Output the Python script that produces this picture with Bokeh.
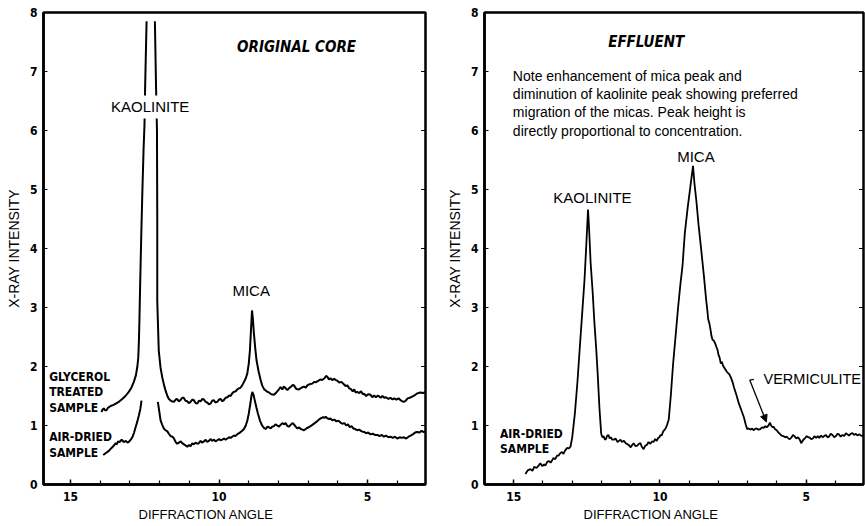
from bokeh.plotting import figure
from bokeh.layouts import row
from bokeh.models import Range1d, FixedTicker, Label, Arrow, NormalHead, Title
from bokeh.embed import file_html
from bokeh.resources import INLINE

# ---------------- data ----------------
x_ticks = [15, 10, 5]
x_minor = [4, 6, 7, 8, 9, 11, 12, 13, 14]
y_ticks = [0, 1, 2, 3, 4, 5, 6, 7, 8]

# Original core - glycerol treated sample (left and right branch of the off-scale kaolinite peak)
gly_left = [(13.96,1.23),(13.92,1.27),(13.88,1.29),(13.84,1.26),(13.79,1.26),(13.74,1.30),(13.65,1.33),
            (13.55,1.35),(13.45,1.38),(13.35,1.41),(13.26,1.45),(13.15,1.50),(13.04,1.57),(12.95,1.64),
            (12.87,1.74),(12.80,1.85),(12.75,2.00),(12.72,2.15),(12.70,2.40),(12.68,2.80),(12.66,3.30),
            (12.62,4.20),(12.58,5.00),(12.54,5.70),(12.51,6.10),(12.49,6.70),(12.44,7.85)]
gly_right = [(12.16,7.85),(12.12,6.70),(12.09,6.00),(12.08,4.50),(12.08,3.11),(12.03,2.27),(11.97,1.98),
             (11.91,1.81),(11.85,1.68),(11.80,1.59),(11.74,1.50),(11.69,1.45),(11.60,1.41),(11.52,1.40),
             (11.46,1.44),(11.41,1.45),(11.36,1.41),(11.30,1.43),(11.24,1.47),(11.19,1.47),(11.13,1.42),
             (11.07,1.41),(11.02,1.38),(10.96,1.40),(10.90,1.44),(10.85,1.43),(10.79,1.38),(10.73,1.37),
             (10.68,1.42),(10.62,1.41),(10.56,1.45),(10.51,1.44),(10.45,1.40),(10.40,1.39),(10.34,1.36),
             (10.29,1.37),(10.23,1.42),(10.18,1.43),(10.12,1.39),(10.06,1.40),(10.00,1.44),(9.95,1.45),
             (9.89,1.41),(9.84,1.43),(9.78,1.47),(9.72,1.48),(9.66,1.51),(9.61,1.50),(9.55,1.55),
             (9.50,1.57),(9.44,1.58),(9.39,1.61),(9.33,1.63),(9.28,1.64),(9.22,1.68),(9.16,1.74),
             (9.10,1.80),(9.05,1.88),(9.00,2.05),(8.96,2.28),(8.92,2.67),(8.89,2.95),(8.86,2.80),
             (8.83,2.58),(8.78,2.30),(8.74,2.11),(8.67,1.92),(8.60,1.77),(8.55,1.68),(8.49,1.62),
             (8.40,1.58),(8.32,1.56),(8.24,1.53),(8.15,1.52),(8.07,1.56),(7.99,1.61),(7.93,1.65),
             (7.87,1.61),(7.82,1.66),(7.76,1.63),(7.70,1.60),(7.65,1.63),(7.57,1.66),(7.52,1.69),
             (7.48,1.68),(7.40,1.62),(7.31,1.61),(7.23,1.64),(7.14,1.66),(7.08,1.64),(7.03,1.68),
             (6.95,1.70),(6.86,1.71),(6.80,1.74),(6.75,1.73),(6.65,1.76),(6.58,1.78),(6.53,1.77),
             (6.45,1.80),(6.40,1.84),(6.36,1.83),(6.30,1.78),(6.25,1.80),(6.19,1.77),(6.12,1.79),
             (6.07,1.77),(6.02,1.76),(5.95,1.73),(5.88,1.74),(5.80,1.70),(5.74,1.67),(5.68,1.68),
             (5.62,1.63),(5.57,1.62),(5.50,1.58),(5.45,1.61),(5.40,1.56),(5.35,1.57),(5.28,1.55),
             (5.22,1.58),(5.16,1.53),(5.12,1.54),(5.05,1.50),(4.98,1.53),(4.90,1.52),(4.84,1.48),
             (4.78,1.51),(4.72,1.48),(4.65,1.51),(4.56,1.47),(4.50,1.50),(4.44,1.47),(4.38,1.48),
             (4.30,1.45),(4.23,1.47),(4.16,1.44),(4.10,1.46),(4.03,1.44),(3.96,1.46),(3.89,1.43),
             (3.83,1.41),(3.78,1.40),(3.72,1.42),(3.65,1.46),(3.58,1.47),(3.50,1.49),(3.42,1.51),
             (3.35,1.54),(3.28,1.55),(3.22,1.56),(3.14,1.55),(3.05,1.57)]

# Original core - air-dried sample
air_left = [(13.90,0.50),(13.82,0.53),(13.71,0.57),(13.62,0.62),(13.54,0.66),(13.48,0.70),(13.44,0.68),
            (13.40,0.73),(13.34,0.72),(13.28,0.76),(13.21,0.72),(13.14,0.74),(13.08,0.71),(13.02,0.73),
            (12.96,0.77),(12.92,0.80),(12.86,0.88),(12.81,0.97),(12.75,1.07),(12.70,1.17),(12.65,1.28),
            (12.61,1.42)]
air_right = [(12.06,1.40),(12.03,1.30),(11.97,1.09),(11.92,1.02),(11.86,0.95),(11.80,0.92),(11.74,0.90),
             (11.69,0.86),(11.63,0.82),(11.57,0.81),(11.52,0.78),(11.46,0.72),(11.41,0.69),(11.35,0.71),
             (11.29,0.73),(11.24,0.70),(11.18,0.68),(11.12,0.66),(11.07,0.64),(11.01,0.67),(10.96,0.65),
             (10.90,0.70),(10.85,0.68),(10.79,0.71),(10.73,0.69),(10.68,0.70),(10.62,0.74),(10.57,0.71),
             (10.51,0.73),(10.45,0.76),(10.40,0.72),(10.34,0.74),(10.29,0.77),(10.23,0.74),(10.17,0.76),
             (10.12,0.73),(10.06,0.75),(10.00,0.77),(9.95,0.75),(9.89,0.76),(9.83,0.78),(9.78,0.76),
             (9.72,0.78),(9.66,0.80),(9.61,0.79),(9.56,0.81),(9.50,0.83),(9.45,0.82),(9.39,0.85),
             (9.30,0.88),(9.22,0.91),(9.16,0.94),(9.10,1.00),(9.05,1.08),(9.00,1.20),(8.95,1.36),
             (8.91,1.50),(8.88,1.57),(8.84,1.52),(8.80,1.43),(8.74,1.30),(8.69,1.20),(8.62,1.08),
             (8.55,1.00),(8.49,0.96),(8.43,0.94),(8.37,0.98),(8.32,0.97),(8.26,0.95),(8.21,0.98),
             (8.15,0.99),(8.10,1.02),(8.04,1.00),(7.98,0.98),(7.93,1.01),(7.87,1.04),(7.82,1.02),
             (7.76,1.04),(7.70,0.99),(7.65,0.98),(7.59,1.01),(7.53,1.04),(7.48,1.02),(7.42,0.98),
             (7.37,0.95),(7.30,0.97),(7.25,0.94),(7.19,0.93),(7.14,0.92),(7.06,0.95),(6.98,0.97),
             (6.92,0.99),(6.86,1.01),(6.78,1.04),(6.70,1.07),(6.64,1.10),(6.58,1.12),(6.50,1.14),
             (6.45,1.13),(6.41,1.15),(6.35,1.12),(6.30,1.11),(6.25,1.12),(6.19,1.09),(6.12,1.10),
             (6.05,1.07),(5.98,1.08),(5.91,1.05),(5.85,1.03),(5.78,1.04),(5.72,1.00),(5.66,1.02),
             (5.60,0.97),(5.54,0.99),(5.48,0.95),(5.42,0.94),(5.35,0.92),(5.28,0.93),(5.20,0.90),
             (5.12,0.89),(5.05,0.87),(4.98,0.88),(4.90,0.85),(4.83,0.86),(4.75,0.84),(4.67,0.84),
             (4.60,0.82),(4.52,0.84),(4.45,0.81),(4.38,0.83),(4.30,0.80),(4.23,0.81),(4.15,0.79),
             (4.08,0.81),(4.00,0.78),(3.92,0.80),(3.85,0.79),(3.78,0.80),(3.70,0.78),(3.62,0.81),
             (3.55,0.83),(3.48,0.85),(3.40,0.88),(3.33,0.89),(3.25,0.88),(3.18,0.91),(3.12,0.89),
             (3.05,0.90)]

# Effluent - air-dried sample
effluent = [(14.60,0.18),(14.52,0.24),(14.43,0.26),(14.36,0.23),(14.30,0.30),(14.22,0.28),(14.15,0.32),
            (14.09,0.36),(14.02,0.31),(13.96,0.34),(13.92,0.32),(13.86,0.38),(13.80,0.40),(13.74,0.37),
            (13.70,0.40),(13.64,0.45),(13.58,0.43),(13.52,0.49),(13.47,0.49),(13.41,0.53),(13.35,0.55),
            (13.30,0.52),(13.25,0.57),(13.18,0.62),(13.12,0.61),(13.06,0.64),(13.00,0.80),(12.91,1.20),
            (12.82,1.75),(12.74,2.33),(12.66,2.90),(12.58,3.47),(12.52,4.05),(12.46,4.66),(12.42,4.30),
            (12.37,3.75),(12.30,3.25),(12.24,2.73),(12.18,2.30),(12.13,1.88),(12.07,1.30),(12.01,0.86),
            (11.97,0.80),(11.93,0.82),(11.88,0.76),(11.85,0.77),(11.80,0.83),(11.76,0.84),(11.72,0.78),
            (11.68,0.80),(11.63,0.76),(11.57,0.76),(11.52,0.78),(11.45,0.72),(11.40,0.74),(11.35,0.76),
            (11.30,0.72),(11.23,0.74),(11.17,0.70),(11.10,0.68),(11.05,0.66),(11.00,0.63),(10.95,0.67),
            (10.90,0.70),(10.84,0.65),(10.78,0.66),(10.72,0.69),(10.67,0.70),(10.62,0.64),(10.56,0.60),
            (10.50,0.66),(10.45,0.67),(10.39,0.72),(10.33,0.69),(10.27,0.73),(10.22,0.72),(10.16,0.77),
            (10.11,0.74),(10.06,0.79),(10.02,0.80),(9.98,0.84),(9.94,0.83),(9.89,0.90),(9.85,0.92),
            (9.80,0.96),(9.75,1.02),(9.70,1.10),(9.63,1.50),(9.55,2.05),(9.46,2.55),(9.38,3.00),
            (9.30,3.40),(9.23,3.70),(9.15,4.26),(9.05,4.70),(8.96,5.05),(8.87,5.40),(8.82,5.10),
            (8.76,4.83),(8.68,4.40),(8.59,3.98),(8.50,3.55),(8.42,3.13),(8.38,2.95),(8.35,2.80),
            (8.31,2.73),(8.27,2.62),(8.24,2.52),(8.20,2.45),(8.16,2.44),(8.12,2.40),(8.07,2.33),
            (8.03,2.28),(8.00,2.20),(7.96,2.15),(7.92,2.05),(7.88,2.08),(7.85,2.02),(7.80,1.98),
            (7.75,1.94),(7.70,1.90),(7.65,1.88),(7.61,1.85),(7.58,1.82),(7.52,1.74),(7.47,1.65),
            (7.38,1.51),(7.30,1.37),(7.21,1.25),(7.13,1.14),(7.07,1.02),(7.02,0.94),(6.96,0.95),
            (6.90,0.93),(6.85,0.95),(6.80,0.92),(6.75,0.94),(6.70,0.95),(6.63,0.93),(6.57,0.94),
            (6.51,0.97),(6.45,0.96),(6.40,0.99),(6.35,0.97),(6.29,1.00),(6.24,1.05),(6.20,1.00),
            (6.15,0.97),(6.11,0.98),(6.07,0.94),(6.01,0.92),(5.95,0.88),(5.90,0.86),(5.84,0.83),
            (5.78,0.82),(5.72,0.80),(5.66,0.81),(5.61,0.78),(5.56,0.77),(5.50,0.80),(5.45,0.84),
            (5.40,0.82),(5.34,0.78),(5.28,0.80),(5.22,0.76),(5.17,0.70),(5.11,0.75),(5.05,0.78),
            (4.98,0.82),(4.93,0.80),(4.89,0.80),(4.83,0.77),(4.77,0.78),(4.72,0.82),(4.66,0.79),
            (4.60,0.82),(4.55,0.79),(4.49,0.83),(4.44,0.80),(4.38,0.82),(4.32,0.84),(4.27,0.80),
            (4.22,0.81),(4.16,0.86),(4.10,0.84),(4.04,0.80),(3.98,0.82),(3.93,0.86),(3.88,0.85),
            (3.82,0.81),(3.76,0.84),(3.70,0.82),(3.64,0.87),(3.59,0.85),(3.54,0.83),(3.48,0.86),
            (3.42,0.87),(3.36,0.84),(3.30,0.86),(3.25,0.83),(3.18,0.85),(3.10,0.82),(3.04,0.84)]

# annotation anchor points (data units)
vermiculite_leader = [(6.79, 1.78), (6.93, 1.77)]
vermiculite_arrow = ((6.93, 1.77), (6.36, 1.06))

COND = "DejaVu Sans Condensed"
SANS = "Liberation Sans"
FIG_H = 525


def make_fig(x_start, x_end, width, border_left, border_right, xtitle_offset):
    p = figure(width=width, height=FIG_H, x_range=Range1d(x_start, x_end), y_range=Range1d(0, 8),
               min_border_left=border_left, min_border_right=border_right,
               min_border_top=12, min_border_bottom=41,
               output_backend="svg", toolbar_location=None)
    p.grid.visible = False
    p.outline_line_color = "black"
    p.outline_line_width = 2.5
    p.background_fill_color = "white"
    p.border_fill_color = "white"

    xa = p.xaxis[0]
    xa.ticker = FixedTicker(ticks=x_ticks, minor_ticks=x_minor)
    xa.axis_line_width = 2.5
    xa.major_tick_in = 5
    xa.major_tick_out = 0
    xa.minor_tick_in = 4
    xa.minor_tick_out = 0
    xa.major_tick_line_width = 1.5
    xa.minor_tick_line_width = 1.2
    xa.major_label_standoff = 7
    xa.major_label_text_font = COND
    xa.major_label_text_font_style = "bold"
    xa.major_label_text_font_size = "12px"
    xa.major_label_text_color = "black"

    ya = p.yaxis[0]
    ya.ticker = FixedTicker(ticks=y_ticks)
    ya.axis_line_width = 2.5
    ya.major_tick_in = 4
    ya.major_tick_out = 0
    ya.minor_tick_line_color = None
    ya.major_label_standoff = 6
    ya.major_label_text_font = COND
    ya.major_label_text_font_style = "bold"
    ya.major_label_text_font_size = "12px"
    ya.major_label_text_color = "black"
    ya.axis_label = "X-RAY INTENSITY"
    ya.axis_label_text_font = SANS
    ya.axis_label_text_font_style = "normal"
    ya.axis_label_text_font_size = "14px"
    ya.axis_label_standoff = 5
    ya.axis_label_text_color = "black"

    # small inward tick marks along the right-hand border (half of each dash is clipped by the frame)
    p.dash(x=[x_end] * len(y_ticks), y=y_ticks, size=9, line_color="black", line_width=1.2)

    # x-axis title sits under the 10 tick, not at the frame centre
    p.add_layout(Title(text="DIFFRACTION ANGLE", align="left", offset=xtitle_offset,
                       text_font=SANS, text_font_size="13px", text_font_style="normal",
                       text_color="black", standoff=2), "below")
    return p


def txt(p, x, y, s, size, style="normal", font=SANS, align="left", bg=None):
    p.add_layout(Label(x=x, y=y, text=s, text_align=align, text_baseline="middle",
                       text_font=font, text_font_size=size, text_font_style=style,
                       text_color="black", background_fill_color=bg,
                       padding=3 if bg else 0))


# ---------------- left panel: original core ----------------
p1 = make_fig(15.91, 3.05, 443, 43, 18, 95)
for seg in (gly_left, gly_right, air_left, air_right):
    p1.line([a for a, b in seg], [b for a, b in seg], line_color="black", line_width=2)

txt(p1, 12.32, 6.40, "KAOLINITE", "15px", align="center", bg="white")
txt(p1, 8.92, 3.29, "MICA", "15px", align="center")
txt(p1, 7.39, 7.42, "ORIGINAL CORE", "15px", style="bold italic", font=COND, align="center")
txt(p1, 15.72, 1.83, "GLYCEROL", "12px", style="bold", font=COND)
txt(p1, 15.72, 1.56, "TREATED", "12px", style="bold", font=COND)
txt(p1, 15.72, 1.29, "SAMPLE", "12px", style="bold", font=COND)
txt(p1, 15.72, 0.80, "AIR-DRIED", "12px", style="bold", font=COND)
txt(p1, 15.72, 0.53, "SAMPLE", "12px", style="bold", font=COND)

# ---------------- right panel: effluent ----------------
p2 = make_fig(16.0, 3.04, 422, 35, 2, 99)
p2.line([a for a, b in effluent], [b for a, b in effluent], line_color="black", line_width=1.8)

txt(p2, 12.31, 4.86, "KAOLINITE", "15px", align="center")
txt(p2, 8.77, 5.56, "MICA", "15px", align="center")
txt(p2, 10.47, 7.50, "EFFLUENT", "15px", style="bold italic", font=COND, align="center")
note = ["Note enhancement of mica peak and",
        "diminution of kaolinite peak showing preferred",
        "migration of the micas.  Peak height is",
        "directly proportional to concentration."]
for i, line in enumerate(note):
    txt(p2, 15.03, 6.93 - i * 0.31, line, "14px")
txt(p2, 15.47, 0.86, "AIR-DRIED", "12px", style="bold", font=COND)
txt(p2, 15.47, 0.61, "SAMPLE", "12px", style="bold", font=COND)
txt(p2, 6.46, 1.78, "VERMICULITE", "14.5px")
p2.line([a for a, b in vermiculite_leader], [b for a, b in vermiculite_leader],
        line_color="black", line_width=1.3)
(ax0, ay0), (ax1, ay1) = vermiculite_arrow
p2.add_layout(Arrow(x_start=ax0, y_start=ay0, x_end=ax1, y_end=ay1, line_width=1.3,
                    line_color="black",
                    end=NormalHead(size=7, fill_color="black", line_color="black")))

layout = row(p1, p2)
open("out.html", "w").write(file_html(layout, INLINE))
